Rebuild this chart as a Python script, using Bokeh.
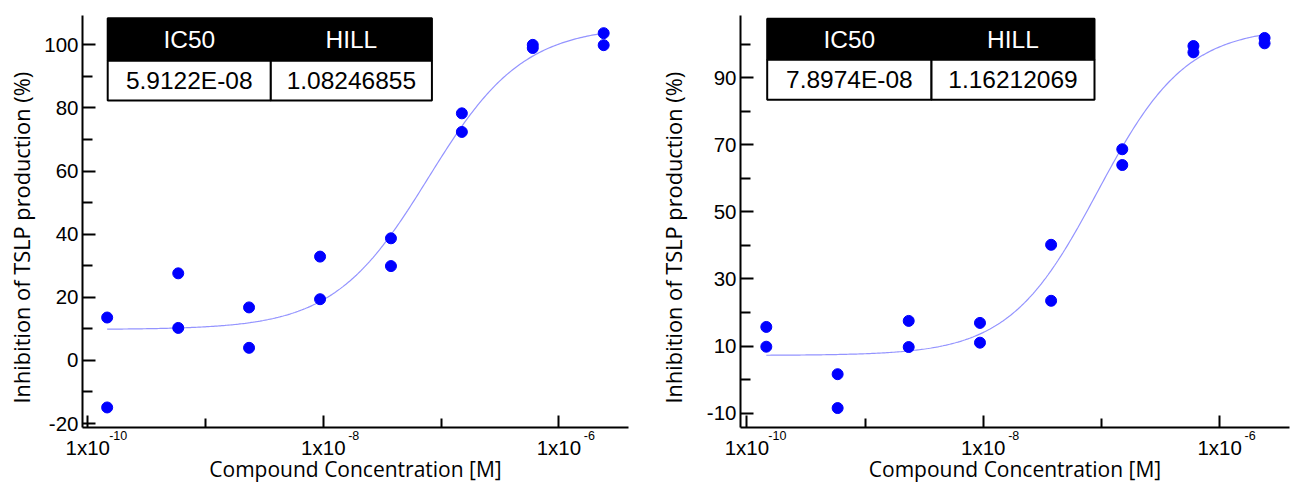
import numpy as np
from bokeh.plotting import figure
from bokeh.layouts import row
from bokeh.models import Range1d, FixedTicker, CustomJSTickFormatter, LogAxis, Title
from bokeh.core.properties import value
from bokeh.embed import file_html
from bokeh.resources import INLINE

# ---------------- data ----------------
conc = [1.46e-10, 5.86e-10, 2.34e-9, 9.38e-9, 3.75e-8, 1.5e-7, 6.0e-7, 2.4e-6]

left_rep1 = [13.6, 27.6, 16.8, 32.9, 38.7, 78.3, 100.0, 103.7]
left_rep2 = [-14.9, 10.3, 4.0, 19.4, 29.9, 72.4, 99.0, 99.9]
right_rep1 = [15.7, 1.6, 17.5, 16.9, 40.2, 68.7, 99.5, 101.9]
right_rep2 = [9.8, -8.5, 9.7, 11.0, 23.5, 64.0, 97.6, 100.3]

# fitted 4-parameter logistic curves (as drawn)
left_fit = {"bottom": 9.8, "top": 106.0, "ec50": 7.8e-8, "hill": 1.08}
right_fit = {"bottom": 7.2, "top": 105.1, "ec50": 9.3e-8, "hill": 1.16}

table_header = ["IC50", "HILL"]
left_table = ["5.9122E-08", "1.08246855"]
right_table = ["7.8974E-08", "1.16212069"]

x_tick_values = [1e-10, 1e-8, 1e-6]
x_minor_values = [1e-9, 1e-7]
left_y_ticks = [-20, 0, 20, 40, 60, 80, 100]
left_y_minor = [-10, 10, 30, 50, 70, 90]
right_y_ticks = [-10, 10, 30, 50, 70, 90]
right_y_minor = [0, 20, 40, 60, 80, 100]

x_title = "Compound Concentration [M]"
y_title = "Inhibition of TSLP production (%)"

TICK_FONT = "Liberation Sans"
TITLE_FONT = "Open Sans"


def make_panel(W, L, R, T, B, xlog, yr, reps, fit, yt, ym, tbl_x, tbl_y, tbl_vals, title_standoff):
    H = 489
    p = figure(width=W, height=H, x_axis_type="log",
               x_range=Range1d(10 ** xlog[0], 10 ** xlog[1]),
               y_range=Range1d(yr[0], yr[1]),
               output_backend="svg", toolbar_location=None,
               min_border_left=L, min_border_right=W - R,
               min_border_top=T, min_border_bottom=H - B)
    p.outline_line_color = None
    p.xgrid.visible = False
    p.ygrid.visible = False
    p.background_fill_color = "white"
    p.border_fill_color = "white"

    fw, fh = R - L, B - T

    def xd(px):
        return 10 ** (xlog[0] + (px - L) / fw * (xlog[1] - xlog[0]))

    def yd(py):
        return yr[0] + (B - py) / fh * (yr[1] - yr[0])

    # axes
    for ax in (p.xaxis[0], p.yaxis[0]):
        ax.axis_line_width = 2
        ax.axis_line_color = "black"
        ax.major_tick_line_width = 2
        ax.minor_tick_line_width = 2
        ax.major_tick_line_color = "black"
        ax.minor_tick_line_color = "black"
        ax.major_tick_out = 0
        ax.minor_tick_out = 0
        ax.major_label_text_font = TICK_FONT
        ax.major_label_text_font_size = "20.5px"
        ax.major_label_text_color = "black"

    xa = p.xaxis[0]
    xa.ticker = FixedTicker(ticks=x_tick_values, minor_ticks=x_minor_values)
    xa.formatter = CustomJSTickFormatter(code="return '1x10';")
    xa.major_tick_in = 12
    xa.minor_tick_in = 9
    xa.major_label_standoff = 8

    # second bottom axis carrying the exponents (superscripts) and the title
    sup_pos = [10 ** (np.log10(t) + 30.5 / fw * (xlog[1] - xlog[0])) for t in x_tick_values]
    xb = LogAxis(ticker=FixedTicker(ticks=sup_pos, minor_ticks=[]),
                 formatter=CustomJSTickFormatter(code="return String(Math.floor(Math.log10(tick) + 1e-9));"))
    xb.axis_line_color = None
    xb.major_tick_line_color = None
    xb.minor_tick_line_color = None
    xb.major_tick_in = 0
    xb.major_tick_out = 0
    xb.minor_tick_in = 0
    xb.minor_tick_out = 0
    xb.major_label_standoff = -31
    xb.major_label_text_font = TICK_FONT
    xb.major_label_text_font_size = "12.5px"
    xb.major_label_text_color = "black"
    xb.axis_label = x_title
    xb.axis_label_text_font = TITLE_FONT
    xb.axis_label_text_font_size = "21px"
    xb.axis_label_text_font_style = "normal"
    xb.axis_label_text_color = "black"
    xb.axis_label_standoff = 12
    p.add_layout(xb, "below")

    ya = p.yaxis[0]
    ya.ticker = FixedTicker(ticks=yt, minor_ticks=ym)
    ya.formatter = CustomJSTickFormatter(code="return tick.toString();")
    ya.major_tick_in = 13
    ya.minor_tick_in = 10
    ya.major_label_standoff = 4

    # y axis title (side title so that it can be shifted along the axis)
    p.add_layout(Title(text=y_title, align="left", offset=24, vertical_align="middle",
                       text_font=TITLE_FONT, text_font_size="21.8px",
                       text_font_style="normal", text_color="black",
                       standoff=title_standoff), "left")

    # fitted curve
    cx = np.logspace(np.log10(conc[0]), np.log10(conc[-1]), 300)
    cy = fit["bottom"] + (fit["top"] - fit["bottom"]) / (1 + (fit["ec50"] / cx) ** fit["hill"])
    p.line(cx, cy, line_color="#9494ff", line_width=1.2)

    # points
    for rep in reps:
        p.scatter(conc, rep, size=11, fill_color="#0000ff", line_color="#0000ff")

    # table
    x0, x1, x2 = [xd(v) for v in tbl_x]
    y0, y1, y2 = [yd(v) for v in tbl_y]
    p.quad(left=[x0], right=[x2], top=[y0], bottom=[y1], fill_color="black",
           line_color="black", line_width=2)
    p.quad(left=[x0, x1], right=[x1, x2], top=[y1, y1], bottom=[y2, y2],
           fill_color="white", line_color="black", line_width=2)
    cxs = [10 ** ((np.log10(x0) + np.log10(x1)) / 2), 10 ** ((np.log10(x1) + np.log10(x2)) / 2)]
    p.text(x=cxs, y=[(y0 + y1) / 2] * 2, text=table_header, text_align="center",
           text_baseline="middle", text_font=value(TICK_FONT), text_font_size="24.5px",
           text_color="white")
    p.text(x=cxs, y=[(y1 + y2) / 2] * 2, text=tbl_vals, text_align="center",
           text_baseline="middle", text_font=value(TICK_FONT), text_font_size="24.5px",
           text_color="black")
    return p


left = make_panel(640, 80, 628, 14, 427, (-10.045, -5.409), (-21.25, 109.3),
                  [left_rep1, left_rep2], left_fit, left_y_ticks, left_y_minor,
                  (105.3, 269, 430.7), (16.7, 59.3, 99.3), left_table, 10)
right = make_panel(651, 100, 649, 15, 427, (-10.054, -5.409), (-14.3, 108.6),
                   [right_rep1, right_rep2], right_fit, right_y_ticks, right_y_minor,
                   (126.7, 291, 454), (18.3, 59.3, 99.3), right_table, 30)

layout = row(left, right)
open("out.html", "w").write(file_html(layout, INLINE))
